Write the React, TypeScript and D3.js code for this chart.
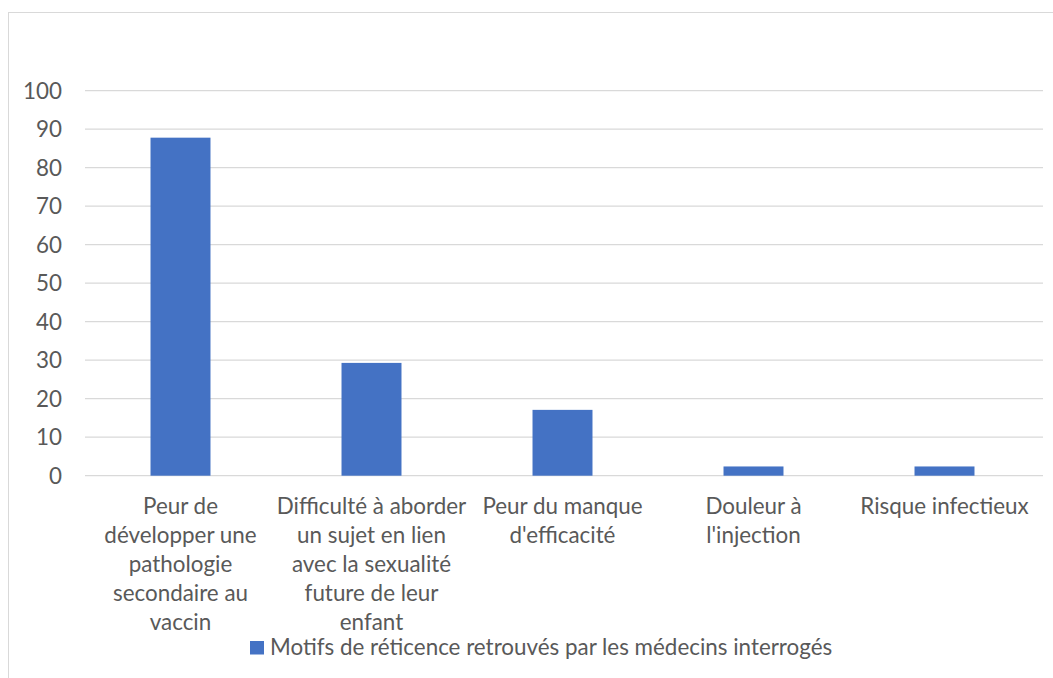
import React from "react";
import * as d3 from "d3";

const categories: string[][] = [
  ["Peur de", "développer une", "pathologie", "secondaire au", "vaccin"],
  ["Difficulté à aborder", "un sujet en lien", "avec la sexualité", "future de leur", "enfant"],
  ["Peur du manque", "d'efficacité"],
  ["Douleur à", "l'injection"],
  ["Risque infectieux"],
];
const values: number[] = [87.8, 29.3, 17.1, 2.4, 2.4];
const yTicks: number[] = [0, 10, 20, 30, 40, 50, 60, 70, 80, 90, 100];
const seriesName = "Motifs de réticence retrouvés par les médecins interrogés";

const W = 1053;
const H = 678;
const FONT = "Lato, 'Open Sans', sans-serif";
const FS = 22.4;
const TEXT = "#595959";
const BAR = "#4472C4";
const GRID = "#d9d9d9";

export default function App() {
  const idx = categories.map((_, i) => String(i));
  const gap = 0.686;
  const x = d3.scaleBand<string>().domain(idx).range([85, 1040]).paddingInner(gap).paddingOuter(gap / 2);
  const y = d3.scaleLinear().domain([0, 100]).range([475.7, 90.7]);

  return (
    <div style={{ position: "absolute", left: 0, top: 0 }}>
      <svg width={W} height={H} style={{ display: "block", background: "#fff" }}>
        <rect x={8.5} y={12.5} width={1100} height={700} fill="#fff" stroke={GRID} strokeWidth={1} />
        {yTicks.map((t) => (
          <g key={t}>
            <line x1={85} x2={1043} y1={y(t)} y2={y(t)} stroke={GRID} strokeWidth={1.3} />
            <text x={62} y={y(t)} dy="0.36em" textAnchor="end" fontFamily={FONT} fontSize={FS} fill={TEXT}>
              {t}
            </text>
          </g>
        ))}
        {values.map((v, i) => (
          <rect key={i} x={x(String(i))!} width={x.bandwidth()} y={y(v)} height={y(0) - y(v)} fill={BAR} />
        ))}
        {categories.map((lines, i) => (
          <text key={i} textAnchor="middle" fontFamily={FONT} fontSize={FS} fill={TEXT}>
            {lines.map((l, j) => (
              <tspan key={j} x={x(String(i))! + x.bandwidth() / 2} y={514.3 + j * 29}>
                {l}
              </tspan>
            ))}
          </text>
        ))}
        <rect x={250} y={641} width={14} height={13.5} fill={BAR} />
        <text x={270} y={655} fontFamily={FONT} fontSize={FS} fill={TEXT}>
          {seriesName}
        </text>
      </svg>
    </div>
  );
}
